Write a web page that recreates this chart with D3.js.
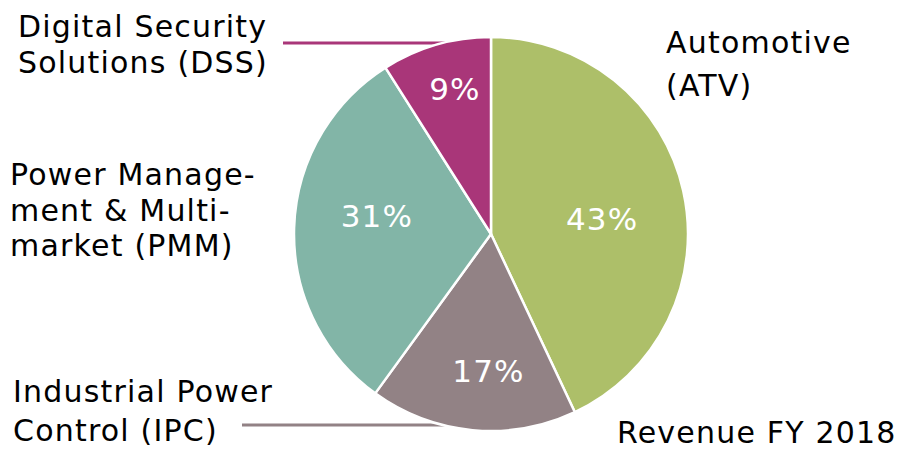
<!DOCTYPE html>
<html>
<head>
<meta charset="utf-8">
<script src="https://cdn.jsdelivr.net/npm/d3@7/dist/d3.min.js"></script>
<style>
  body { margin: 0; background: #fff; }
  svg text { font-family: "DejaVu Sans", Verdana, sans-serif; }
</style>
</head>
<body>
<div id="chart"></div>
<script>
// segment data, clockwise from 12 o'clock
const segments = ["ATV", "IPC", "PMM", "DSS"];
const shares = [43, 17, 31, 9];
const segmentNames = [
  ["Automotive", "(ATV)"],
  ["Industrial Power", "Control (IPC)"],
  ["Power Manage-", "ment & Multi-", "market (PMM)"],
  ["Digital Security", "Solutions (DSS)"]
];
const chartTitle = "Revenue FY 2018";

const width = 900, height = 454;
const cx = 491, cy = 234, radius = 197;

const color = d3.scaleOrdinal()
  .domain(segments)
  .range(["#adbf69", "#928285", "#82b5a7", "#a93679"]);

// where the category names sit (x, first baseline, line step)
const nameLayout = {
  ATV: { x: 666, y: 53, step: 43 },
  IPC: { x: 13, y: 402, step: 39 },
  PMM: { x: 10, y: 185, step: 35.5 },
  DSS: { x: 18, y: 37, step: 36 }
};
// leader lines for the two outside names
const leaders = {
  DSS: { x1: 283, y: 43 },
  IPC: { x1: 242, y: 425 }
};
// small nudges for the percent labels, relative to the arc centroid
const pctNudge = { ATV: [-8, 12], IPC: [9, 15], PMM: [8, -14], DSS: [-2, -28] };

const svg = d3.select("#chart").append("svg")
  .attr("width", width).attr("height", height);

const rows = segments.map((s, i) => ({ key: s, value: shares[i], name: segmentNames[i] }));

const pie = d3.pie().value(d => d.value).sort(null);
const arcs = pie(rows);
const arc = d3.arc().innerRadius(0).outerRadius(radius);
const labelArc = d3.arc().innerRadius(radius * 0.62).outerRadius(radius * 0.62);

// leader lines go under the pie
svg.append("g").selectAll("line")
  .data(rows.filter(d => leaders[d.key]))
  .join("line")
  .attr("x1", d => leaders[d.key].x1)
  .attr("x2", cx - 30)
  .attr("y1", d => leaders[d.key].y)
  .attr("y2", d => leaders[d.key].y)
  .attr("stroke", d => color(d.key))
  .attr("stroke-width", 3);

const g = svg.append("g").attr("transform", `translate(${cx},${cy})`);

g.selectAll("path")
  .data(arcs)
  .join("path")
  .attr("d", arc)
  .attr("fill", d => color(d.data.key))
  .attr("stroke", "#fff")
  .attr("stroke-width", 2.5)
  .attr("stroke-linejoin", "round");

g.selectAll("text.pct")
  .data(arcs)
  .join("text")
  .attr("class", "pct")
  .attr("x", d => labelArc.centroid(d)[0] + pctNudge[d.data.key][0])
  .attr("y", d => labelArc.centroid(d)[1] + pctNudge[d.data.key][1] + 11)
  .attr("text-anchor", "middle")
  .attr("fill", "#fff")
  .style("font-size", "31px")
  .style("letter-spacing", "1.2px")
  .text(d => d.data.value + "%");

// category names
const names = svg.append("g").selectAll("text")
  .data(rows)
  .join("text")
  .attr("fill", "#000")
  .style("font-size", "30px")
  .style("letter-spacing", "1.2px");

names.selectAll("tspan")
  .data(d => d.name.map((line, j) => ({ line, j, key: d.key })))
  .join("tspan")
  .attr("x", d => nameLayout[d.key].x)
  .attr("y", d => nameLayout[d.key].y + d.j * nameLayout[d.key].step)
  .text(d => d.line);

svg.append("text")
  .attr("x", 617)
  .attr("y", 443)
  .attr("fill", "#000")
  .style("font-size", "30px")
  .style("letter-spacing", "1.2px")
  .text(chartTitle);
</script>
</body>
</html>
